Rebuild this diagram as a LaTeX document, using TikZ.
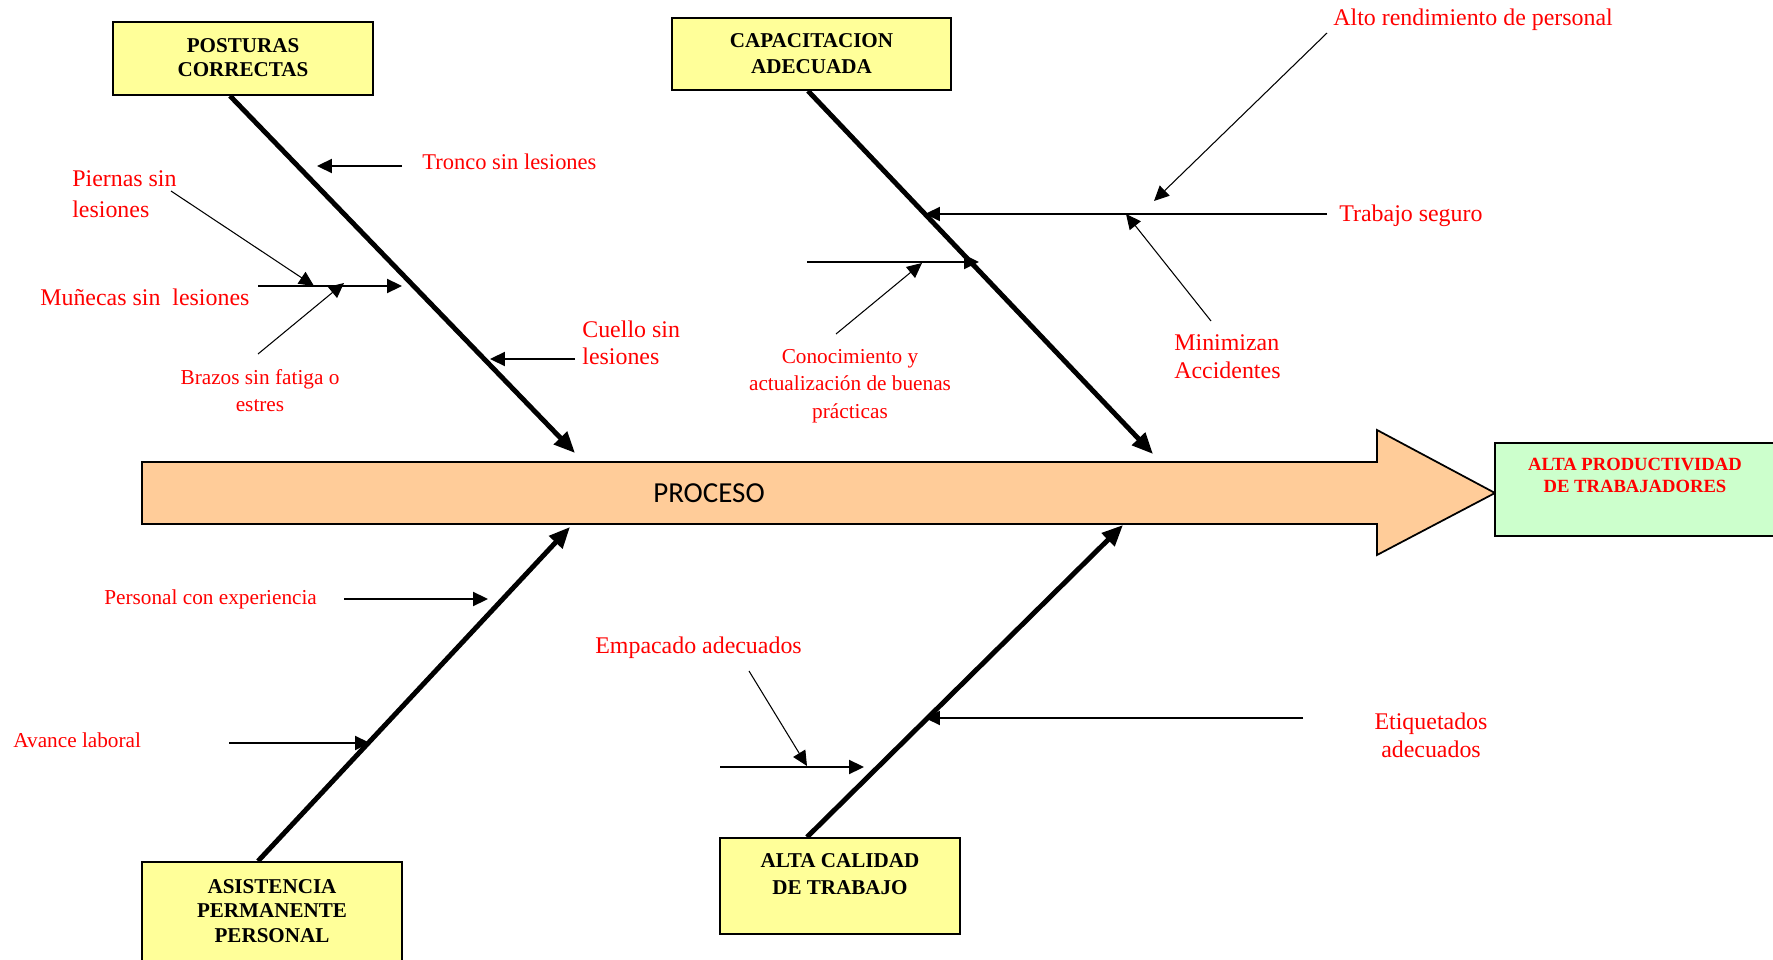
\documentclass[tikz,border=0pt]{standalone}
\usepackage{fontspec}
\setmainfont{Liberation Serif}
\newfontfamily\carlito{Carlito}
\usepackage{xcolor}
\usetikzlibrary{arrows.meta}
\definecolor{amarillo}{HTML}{FFFF99}
\definecolor{verde}{HTML}{CCFFCC}
\definecolor{naranja}{HTML}{FFCC99}

\begin{document}
\begin{tikzpicture}[x=0.2mm,y=-0.2mm,
caja/.style={draw,line width=1pt,fill=amarillo,anchor=base,inner ysep=0pt,align=center,font=\bfseries\fontsize{12}{13.8}\selectfont},
etiq/.style={text=red,inner sep=0pt,align=left,font=\fontsize{13.6}{15.6}\selectfont},
chica/.style={text=red,inner sep=0pt,align=center,font=\fontsize{12.1}{15.6}\selectfont},
espina/.style={line width=2.8pt,-{Triangle[length=12pt,width=10pt]}},
rama/.style={line width=1pt,-{Triangle[length=8.5pt,width=8pt]}},
fina/.style={line width=0.6pt,-{Triangle[length=8.5pt,width=8pt]}}]
\useasboundingbox (0,0) rectangle (1773,960);
\clip (0,0) rectangle (1773,960);

\draw[line width=1pt,fill=naranja] (142,462)--(1377,462)--(1377,430)--(1495,493)
--(1377,555)--(1377,524)--(142,524)--cycle;
\node[anchor=base,font=\carlito\fontsize{16.5}{18}\selectfont] (proceso) at (709,502) {PROCESO};
\node[caja,fill=verde,line width=1.2pt,text=red,font=\bfseries\fontsize{10.6}{12}\selectfont,
minimum width=56mm,text height=9.8mm,text depth=8.8mm] (productividad) at (1635,492)
{ALTA PRODUCTIVIDAD\\DE TRABAJADORES};

\node[caja,minimum width=52mm,text height=11mm,text depth=3.6mm] (posturas) at (243,77) {POSTURAS\\CORRECTAS};
\node[caja,minimum width=55.8mm,text height=11.2mm,text depth=3.2mm,
font=\bfseries\fontsize{12}{14.8}\selectfont] (capacitacion) at (811.5,74) {CAPACITACION\\ADECUADA};
\node[caja,minimum width=52mm,text height=16mm,text depth=11.6mm] (asistencia) at (272,942) {ASISTENCIA\\PERMANENTE\\PERSONAL};
\node[caja,minimum width=48mm,text height=11.2mm,text depth=8mm,
font=\bfseries\fontsize{12}{14.8}\selectfont] (altacalidad) at (840,894) {ALTA CALIDAD\\DE TRABAJO};

\coordinate (p2) at (575,453);
\coordinate (c2) at (1153,454);
\coordinate (a2) at (570,527);
\coordinate (q2) at (1123,525);
\draw[espina] ([xshift=-2.6mm]posturas.south)--(p2);
\draw[espina] ([xshift=-0.7mm]capacitacion.south)--(c2);
\draw[espina] ([xshift=-2.8mm]asistencia.north)--(a2);
\draw[espina] ([xshift=-6.6mm]altacalidad.north)--(q2);

\node[etiq,anchor=base west,font=\fontsize{12.8}{15.6}\selectfont] (tronco) at (422,170) {Tronco sin lesiones};
\node[etiq,anchor=base west,font=\fontsize{13.6}{18.2}\selectfont] (piernas) at (72,218) {Piernas sin\\lesiones};
\node[etiq,anchor=base west] (munecas) at (40,306) {Muñecas sin\ \ lesiones};
\node[chica,anchor=base] (brazos) at (260,412) {Brazos sin fatiga o\\estres};
\node[etiq,anchor=base west] (cuello) at (582,365) {Cuello sin\\lesiones};
\node[etiq,anchor=base west] (alto) at (1333,26) {Alto rendimiento de personal};
\node[etiq,anchor=base west] (trabajo) at (1339,222) {Trabajo seguro};
\node[etiq,anchor=base west] (minimizan) at (1174,378) {Minimizan\\Accidentes};
\node[chica,anchor=base] (conocimiento) at (850,418) {Conocimiento y\\actualización de buenas\\prácticas};
\node[chica,anchor=base west] (experiencia) at (104,604) {Personal con experiencia};
\node[chica,anchor=base west] (avance) at (13,747) {Avance laboral};
\node[etiq,anchor=base west] (empacado) at (595,653) {Empacado adecuados};
\node[etiq,anchor=base,align=center] (etiquetados) at (1431,757) {Etiquetados\\adecuados};

\coordinate (tr1) at (402,166); \coordinate (tr2) at (317,166);
\coordinate (pi1) at (171,191); \coordinate (pi2) at (314,286);
\coordinate (mu1) at (258,286); \coordinate (mu2) at (402,286);
\coordinate (br1) at (258,354); \coordinate (br2) at (344,283);
\coordinate (cu1) at (575,359); \coordinate (cu2) at (490,359);
\coordinate (al1) at (1327,33); \coordinate (al2) at (1154,201);
\coordinate (ts1) at (1327,214); \coordinate (ts2) at (925,214);
\coordinate (mi1) at (1211,321); \coordinate (mi2) at (1126,214);
\coordinate (co1) at (807,262); \coordinate (co2) at (979,262);
\coordinate (cp1) at (836,334); \coordinate (cp2) at (922,263);
\coordinate (pe1) at (344,599); \coordinate (pe2) at (488,599);
\coordinate (av1) at (229,743); \coordinate (av2) at (370,743);
\coordinate (ep1) at (749,671); \coordinate (ep2) at (807,766);
\coordinate (em1) at (720,767); \coordinate (em2) at (864,767);
\coordinate (et1) at (1303,718); \coordinate (et2) at (925,718);
\foreach \a/\b in {tr1/tr2,mu1/mu2,cu1/cu2,ts1/ts2,co1/co2,pe1/pe2,av1/av2,em1/em2,et1/et2}{
\draw[rama] (\a)--(\b);
}
\foreach \a/\b in {pi1/pi2,br1/br2,al1/al2,mi1/mi2,cp1/cp2,ep1/ep2}{
\draw[fina] (\a)--(\b);
}
\end{tikzpicture}
\end{document}
